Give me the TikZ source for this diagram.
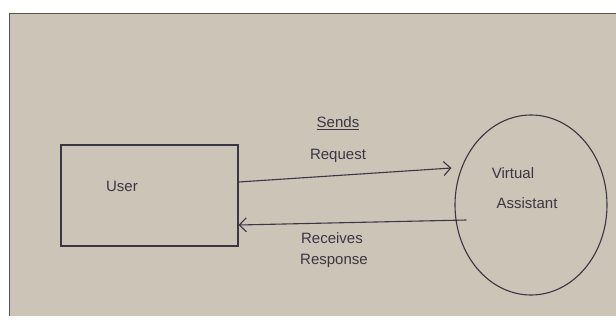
\documentclass[tikz,border=0pt]{standalone}
\usepackage{fontspec}
\setmainfont{Liberation Sans}
\usepackage{tikz}
\usetikzlibrary{arrows.meta,positioning,shapes.geometric}
\definecolor{paper}{RGB}{204,196,182}
\definecolor{ink}{RGB}{58,54,68}
\definecolor{frame}{RGB}{85,85,85}

\begin{document}
\begin{tikzpicture}[x=1pt, y=-1pt, >={Straight Barb[length=7pt,width=14pt]},
  every node/.style={font=\fontsize{15}{17}\selectfont, text=ink},
  handbox/.style={draw=ink, line width=1.1pt, minimum width=177pt, minimum height=101pt},
  handcircle/.style={draw=ink, line width=1.1pt, ellipse, minimum width=152pt, minimum height=180pt, align=center},
  flow/.style={draw=ink, line width=1.1pt}]
\useasboundingbox (0,0) rectangle (616,322);
\fill[white] (0,0) rectangle (616,322);
\fill[paper] (9,13) rectangle (616,316);
\draw[frame, line width=1pt] (9,316) -- (9,13) -- (616,13);
\node[handbox] (user) at (149.5,195.5) {};
\node (userlbl) at (122,186) {User};
\node[handcircle] (va) at (531,205) {};
\node (virt) at (513,173) {Virtual};
\node (assist) at (527,203) {Assistant};
\draw[flow,->] ([yshift=13.5pt]user.east) -- ([yshift=37pt,xshift=-3pt]va.west);
\draw[flow,->] ([yshift=-15pt,xshift=12pt]va.west) -- ([yshift=-29.5pt]user.east);
\node (sends) at (338,123) {\underline{Sends}};
\node (request) at (338,156) {Request};
\node (receives) at (332,238) {Receives};
\node (response) at (334,261) {Response};
\end{tikzpicture}
\end{document}
